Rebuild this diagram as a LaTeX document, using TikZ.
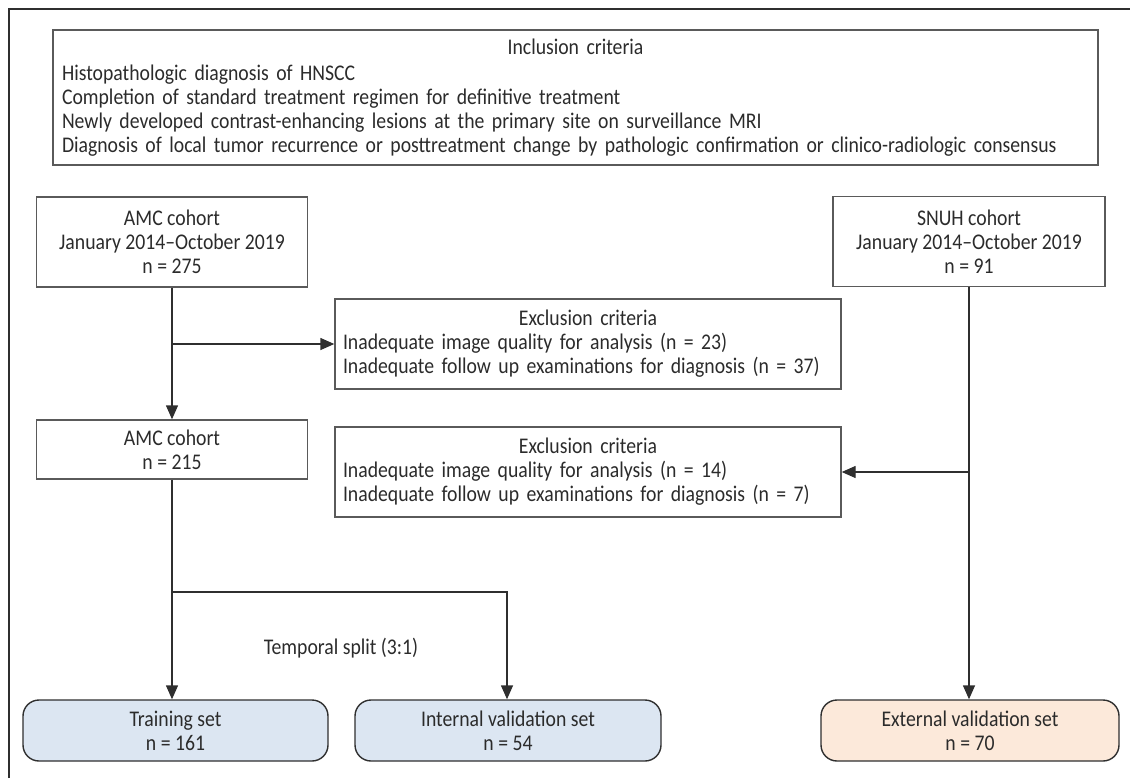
\documentclass[tikz,border=0pt]{standalone}
\usepackage{fontspec}
\setmainfont{Carlito}[FakeStretch=0.88]
\usetikzlibrary{arrows.meta}
\definecolor{txt}{HTML}{2B2B2B}
\definecolor{boxline}{HTML}{5A5A5A}
\definecolor{conn}{HTML}{2F2F2F}
\definecolor{bluefill}{HTML}{DCE6F2}
\definecolor{orangefill}{HTML}{FCE9DA}
\tikzset{
  flowbox/.style={draw=boxline, line width=0.7pt, text=txt, inner sep=0pt, align=center,
    font=\fontsize{11.2}{12}\selectfont},
  listbox/.style={draw=boxline, line width=0.7pt, text=txt, inner xsep=4.5pt, inner ysep=0pt, align=left,
    font=\fontsize{11.2}{12}\selectfont},
  setbox/.style={draw=conn, line width=0.7pt, text=txt, rounded corners=8pt, inner sep=0pt, align=center,
    font=\fontsize{11.2}{12}\selectfont},
  conn/.style={draw=conn, line width=0.7pt},
  arr/.style={conn, -{Triangle[length=7pt,width=6pt]}},
  frameline/.style={draw=conn, line width=0.7pt}
}
\begin{document}
\begin{tikzpicture}[x=0.5pt,y=-0.5pt]
\useasboundingbox (0,0) rectangle (1130,778);
% frame
\coordinate (fbl) at (9,778);
\coordinate (ftl) at (9,9);
\coordinate (ftr) at (1130,9);
\draw[frameline] (fbl) -- (ftl) -- (ftr);
% inclusion
\node[listbox, minimum width=522.5pt, minimum height=67.5pt, text width=513.5pt] (incl) at (575.5,97.5)
 {\makebox[\linewidth]{Inclusion criteria}\\[1pt]
  \mbox{Histopathologic diagnosis of HNSCC}\\
  \mbox{Completion of standard treatment regimen for definitive treatment}\\
  \mbox{Newly developed contrast-enhancing lesions at the primary site on surveillance MRI}\\
  \mbox{Diagnosis of local tumor recurrence or posttreatment change by pathologic confirmation or clinico-radiologic consensus}};
% cohorts
\node[flowbox, minimum width=135.5pt, minimum height=45pt] (amc1) at (172,242)
 {AMC cohort\\January 2014--October 2019\\n = 275};
\node[flowbox, minimum width=135.5pt, minimum height=29.5pt] (amc2) at (172,449.5)
 {AMC cohort\\n = 215};
\node[flowbox, minimum width=136pt, minimum height=45pt] (snuh) at (969,241.5)
 {SNUH cohort\\January 2014--October 2019\\n = 91};
% exclusion
\node[listbox, minimum width=253pt, minimum height=45pt, text width=245pt, inner xsep=4pt] (exc1) at (588,344)
 {\makebox[\linewidth]{Exclusion criteria}\\
  \mbox{Inadequate image quality for analysis (n = 23)}\\
  \mbox{Inadequate follow up examinations for diagnosis (n = 37)}};
\node[listbox, minimum width=253pt, minimum height=45pt, text width=245pt, inner xsep=4pt] (exc2) at (588,472)
 {\makebox[\linewidth]{Exclusion criteria}\\
  \mbox{Inadequate image quality for analysis (n = 14)}\\
  \mbox{Inadequate follow up examinations for diagnosis (n = 7)}};
% sets
\node[setbox, fill=bluefill, minimum width=152.5pt, minimum height=30.5pt] (train) at (175.5,730.5)
 {Training set\\n = 161};
\node[setbox, fill=bluefill, minimum width=153pt, minimum height=30.5pt] (intv) at (508,730.5)
 {Internal validation set\\n = 54};
\node[setbox, fill=orangefill, minimum width=149pt, minimum height=30.5pt] (extv) at (970,730.5)
 {External validation set\\n = 70};
% connectors
\coordinate (b1) at (172,344);
\coordinate (b2) at (172,592);
\coordinate (b3) at (507,592);
\coordinate (b4) at (969,472);
\draw[arr] (amc1.south) -- (amc2.north);
\draw[arr] (b1) -- (exc1.west);
\draw[arr] (amc2.south) -- (amc2.south |- train.north);
\draw[arr] (b2) -- (b3) -- (b3 |- intv.north);
\draw[arr] (snuh.south) -- (snuh.south |- extv.north);
\draw[arr] (b4) -- (exc2.east);
\node[text=txt, font=\fontsize{11.2}{12}\selectfont, inner sep=0pt] (split) at (341,648) {Temporal split (3:1)};
\end{tikzpicture}
\end{document}
